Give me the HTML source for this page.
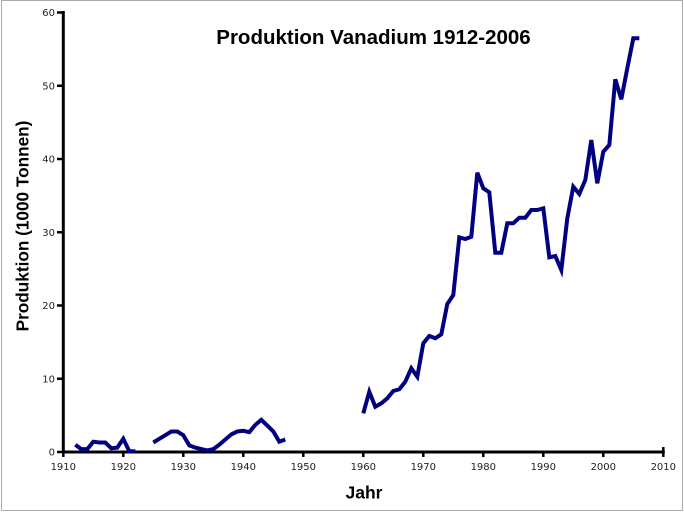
<!DOCTYPE html>
<html>
<head>
<meta charset="utf-8">
<style>
html,body{margin:0;padding:0;background:#fff;}
svg{display:block;}
</style>
</head>
<body>
<svg width="684" height="512" viewBox="0 0 684 512" xmlns="http://www.w3.org/2000/svg">
<rect x="0" y="0" width="684" height="512" fill="#fff"/>
<rect x="1.5" y="0.5" width="681" height="510" fill="none" stroke="#aaa" stroke-width="1"/>

<!-- title -->
<text x="373.5" y="44" text-anchor="middle" font-family="Liberation Sans, sans-serif" font-weight="bold" font-size="20.5" fill="#000">Produktion Vanadium 1912-2006</text>

<!-- axes -->
<g stroke="#000" stroke-width="3" fill="none">
<line x1="63.3" y1="11" x2="63.3" y2="453.5"/>
<line x1="61.8" y1="452" x2="664.8" y2="452"/>
</g>
<!-- y ticks -->
<g stroke="#000" stroke-width="2.5">
<line x1="57" y1="452" x2="63" y2="452"/>
<line x1="57" y1="378.75" x2="63" y2="378.75"/>
<line x1="57" y1="305.5" x2="63" y2="305.5"/>
<line x1="57" y1="232.25" x2="63" y2="232.25"/>
<line x1="57" y1="159" x2="63" y2="159"/>
<line x1="57" y1="85.75" x2="63" y2="85.75"/>
<line x1="57" y1="12.5" x2="63" y2="12.5"/>
</g>
<!-- x ticks -->
<g stroke="#000" stroke-width="2.5">
<line x1="63.3" y1="452" x2="63.3" y2="457"/>
<line x1="123.3" y1="452" x2="123.3" y2="457"/>
<line x1="183.3" y1="452" x2="183.3" y2="457"/>
<line x1="243.3" y1="452" x2="243.3" y2="457"/>
<line x1="303.3" y1="452" x2="303.3" y2="457"/>
<line x1="363.3" y1="452" x2="363.3" y2="457"/>
<line x1="423.3" y1="452" x2="423.3" y2="457"/>
<line x1="483.3" y1="452" x2="483.3" y2="457"/>
<line x1="543.3" y1="452" x2="543.3" y2="457"/>
<line x1="603.3" y1="452" x2="603.3" y2="457"/>
<line x1="663.3" y1="447" x2="663.3" y2="457"/>
</g>

<!-- y tick labels -->
<g font-family="DejaVu Sans, sans-serif" font-size="10" fill="#222" text-anchor="end">
<text x="55" y="455.6">0</text>
<text x="55" y="382.4">10</text>
<text x="55" y="309.1">20</text>
<text x="55" y="235.9">30</text>
<text x="55" y="162.6">40</text>
<text x="55" y="89.4">50</text>
<text x="55" y="16.1">60</text>
</g>
<!-- x tick labels -->
<g font-family="DejaVu Sans, sans-serif" font-size="10" fill="#222" text-anchor="middle">
<text x="63.3" y="470">1910</text>
<text x="123.3" y="470">1920</text>
<text x="183.3" y="470">1930</text>
<text x="243.3" y="470">1940</text>
<text x="303.3" y="470">1950</text>
<text x="363.3" y="470">1960</text>
<text x="423.3" y="470">1970</text>
<text x="483.3" y="470">1980</text>
<text x="543.3" y="470">1990</text>
<text x="603.3" y="470">2000</text>
<text x="663.3" y="470">2010</text>
</g>

<!-- axis labels -->
<text x="364" y="498.5" text-anchor="middle" font-family="Liberation Sans, sans-serif" font-weight="bold" font-size="17.5" fill="#000">Jahr</text>
<text transform="translate(28.5,226) rotate(-90)" text-anchor="middle" font-family="Liberation Sans, sans-serif" font-weight="bold" font-size="17.2" fill="#000">Produktion (1000 Tonnen)</text>

<!-- data -->
<g fill="none" stroke="#000080" stroke-width="4" stroke-linejoin="miter" stroke-miterlimit="4">
<polyline points="75.3,444.7 81.3,449.1 87.3,449.1 93.3,441.7 99.3,442.5 105.3,442.5 111.3,448.3 117.3,447.6 123.3,438.8 129.3,451.3 135.3,451.3"/>
<polyline points="153.3,442.5 159.3,438.8 165.3,435.2 171.3,431.5 177.3,431.5 183.3,435.2 189.3,445.4 195.3,447.6 201.3,449.1 207.3,450.5 213.3,449.1 219.3,444.7 225.3,439.5 231.3,434.4 237.3,431.5 243.3,430.8 249.3,432.2 255.3,424.9 261.3,419.8 267.3,425.6 273.3,431.5 279.3,441.7 285.3,439.5"/>
<polyline points="363.3,413.3 369.3,391.7 375.3,406.7 381.3,403.3 387.3,398.3 393.3,391 399.3,389.3 405.3,381.7 411.3,368.3 417.3,376.7 423.3,343.3 429.3,336 435.3,338.3 441.3,334.3 447.3,304 453.3,295 459.3,237.3 465.3,239 471.3,236.7 477.3,172.7 483.3,188.3 489.3,192.3 495.3,252.7 501.3,252.7 507.3,223.3 513.3,223.3 519.3,217.7 525.3,217.7 531.3,210 537.3,210 543.3,208.3 549.3,257.3 555.3,256 561.3,270 567.3,218.3 573.3,186.7 579.3,194 585.3,180 591.3,140 597.3,183.3 603.3,151.7 609.3,145 615.3,79.3 621.3,99.3 627.3,68.3 633.3,38.3 639.3,38.3"/>
</g>
</svg>
</body>
</html>
